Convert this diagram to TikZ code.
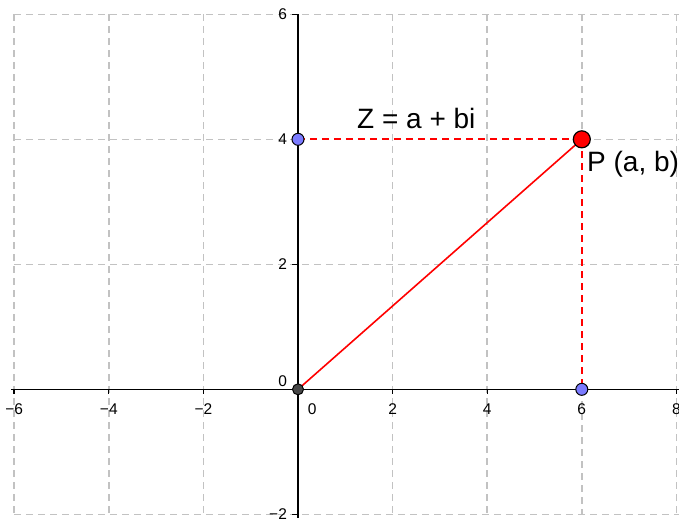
\documentclass[tikz,border=0pt]{standalone}
\usepackage{fontspec}
\setmainfont{Liberation Sans}
\tikzset{
  gridline/.style={draw=black!24, line width=1.5pt, dash pattern=on 7pt off 5pt},
  axisline/.style={draw=black, line width=1.6pt},
  tickmark/.style={draw=black, line width=1.4pt},
  ticklabel/.style={font=\fontsize{15.5}{18}\selectfont, inner sep=0pt},
  biglabel/.style={font=\fontsize{28}{32}\selectfont, inner sep=0pt},
  redsolid/.style={draw=red, line width=1.6pt},
  reddash/.style={draw={rgb,255:red,255;green,0;blue,0}, line width=1.8pt, dash pattern=on 7pt off 5pt},
  origindot/.style={circle, draw=black, fill=black!72, line width=1pt, minimum size=11pt, inner sep=0pt},
  bluedot/.style={circle, draw=black, fill={rgb,255:red,123;green,123;blue,255}, line width=1pt, minimum size=12pt, inner sep=0pt},
  reddot/.style={circle, draw=black, fill=red, line width=1.2pt, minimum size=17pt, inner sep=0pt}
}
\begin{document}
\begin{tikzpicture}[x=47.3pt,y=62.5pt]
\useasboundingbox (-6.300,-2.059) rectangle (8.055,6.229);
\fill[white] (-6.300,-2.059) rectangle (8.055,6.229);
% grid
\foreach \gy in {-2,2,6} \draw[gridline] (-6,\gy) -- (8.06,\gy);
\draw[gridline] (-6,4) -- (0,4);
\draw[gridline] (6,4) -- (8.06,4);
\foreach \gx in {-6,-4,-2,2,4,8} \draw[gridline] (\gx,6) -- (\gx,-2);
\draw[gridline] (6,6) -- (6,4);
\draw[gridline] (6,0) -- (6,-2);
% axes
\draw[axisline] (-6.07,0) -- (8.06,0);
\draw[axisline] (0,6) -- (0,-2.06);
% ticks
\foreach \tx in {-6,-4,-2,2,4,6,8} \draw[tickmark] (\tx,0) -- ++(0,-5pt);
\foreach \ty in {-2,2,4,6} \draw[tickmark] (0,\ty) -- ++(-6pt,0);
% x tick labels
\foreach \tx/\tl in {-6/−6,-4/−4,-2/−2,2/2,4/4,6/6,8/8}
  \node[ticklabel] (xl\tx) at (\tx,-0.315) {\tl};
\node[ticklabel] (xl0) at (0.30,-0.315) {0};
% y tick labels
\foreach \ty/\tl in {-2/−2,2/2,4/4,6/6}
  \node[ticklabel, anchor=east] (yl\ty) at (-0.23,\ty) {\tl};
\node[ticklabel, anchor=east] (yl0) at (-0.23,0.138) {0};
% points
\coordinate (O) at (0,0);
\coordinate (A) at (0,4);
\coordinate (B) at (6,0);
\coordinate (P) at (6,4);
\draw[redsolid] (O) -- (P);
\draw[reddash] (A) -- (P);
\draw[reddash] (P) -- (B);
\node[origindot] (Odot) at (O) {};
\node[bluedot] (Adot) at (A) {};
\node[bluedot] (Bdot) at (B) {};
\node[reddot] (Pdot) at (P) {};
% labels
\node[biglabel, anchor=base west] (zlabel) at (1.247,4.18) {Z = a + bi};
\node[biglabel, anchor=base west] (plabel) at (6.11,3.48) {P (a, b)};
\end{tikzpicture}
\end{document}
